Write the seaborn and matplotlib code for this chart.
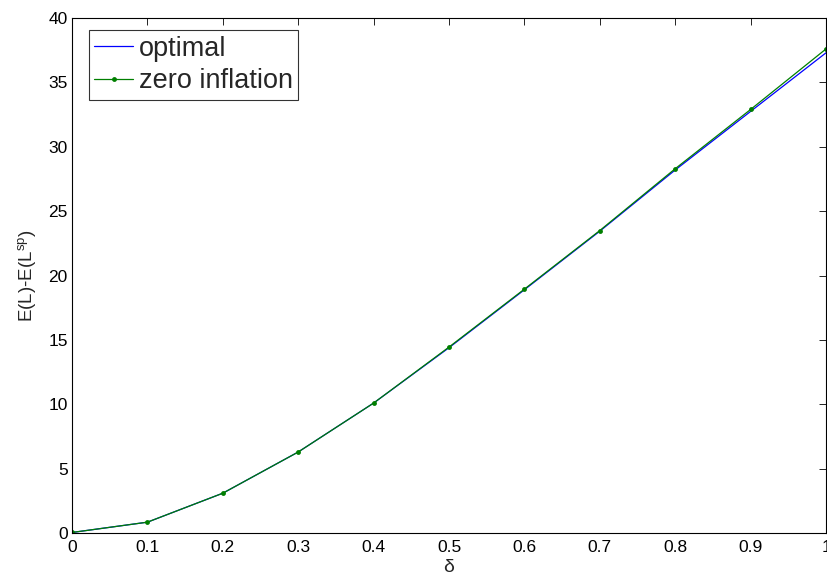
import matplotlib
matplotlib.use("Agg")
import matplotlib.pyplot as plt
import seaborn as sns
import pandas as pd

delta = [0.0, 0.1, 0.2, 0.3, 0.4, 0.5, 0.6, 0.7, 0.8, 0.9, 1.0]
optimal = [0.05, 0.85, 3.1, 6.3, 10.1, 14.4, 18.9, 23.45, 28.2, 32.75, 37.3]
zero_inflation = [0.05, 0.85, 3.1, 6.3, 10.1, 14.45, 18.95, 23.5, 28.3, 32.9, 37.6]

sns.set_style("white")
plt.rcParams['font.family'] = ['Liberation Sans', 'DejaVu Sans']
plt.rcParams['mathtext.fontset'] = 'custom'
plt.rcParams['mathtext.rm'] = 'Liberation Sans'
plt.rcParams['xtick.direction'] = 'in'
plt.rcParams['ytick.direction'] = 'in'

fig = plt.figure(figsize=(8.28, 5.82), dpi=100)
ax = fig.add_axes([0.087, 0.084, 0.9106, 0.885])

df = pd.DataFrame({"delta": delta, "optimal": optimal, "zero": zero_inflation})
sns.lineplot(data=df, x="delta", y="optimal", ax=ax, color="#0000ff", lw=0.9, label="optimal")
sns.lineplot(data=df, x="delta", y="zero", ax=ax, color="#007f00", lw=0.9, marker="o",
             markersize=3.5, markeredgewidth=0, label="zero inflation")

ax.set_xlim(0, 1)
ax.set_ylim(0, 40)
ax.set_xticks([0, 0.1, 0.2, 0.3, 0.4, 0.5, 0.6, 0.7, 0.8, 0.9, 1])
ax.set_xticklabels(["0", "0.1", "0.2", "0.3", "0.4", "0.5", "0.6", "0.7", "0.8", "0.9", "1"])
ax.set_yticks(range(0, 41, 5))
ax.tick_params(labelsize=12.5, length=5, width=0.6, colors="black", top=True, right=True)
ax.tick_params(axis="x", pad=5)
ax.tick_params(axis="y", pad=3)
for s in ax.spines.values():
    s.set_color("black")
    s.set_linewidth(0.8)
ax.set_xlabel("δ", fontsize=14, labelpad=3)
ax.set_ylabel("E(L)-E(L$^{\\mathrm{sp}}$)", fontsize=13.5, labelpad=7)

leg = ax.legend(loc="upper left", bbox_to_anchor=(0.006, 1.0), fontsize=19.5, frameon=True,
                fancybox=False, edgecolor="black", handlelength=1.45, handletextpad=0.2,
                borderpad=0.2, labelspacing=0.25, borderaxespad=0.45)
leg.get_frame().set_linewidth(0.8)

fig.savefig("out.png", dpi=100)
